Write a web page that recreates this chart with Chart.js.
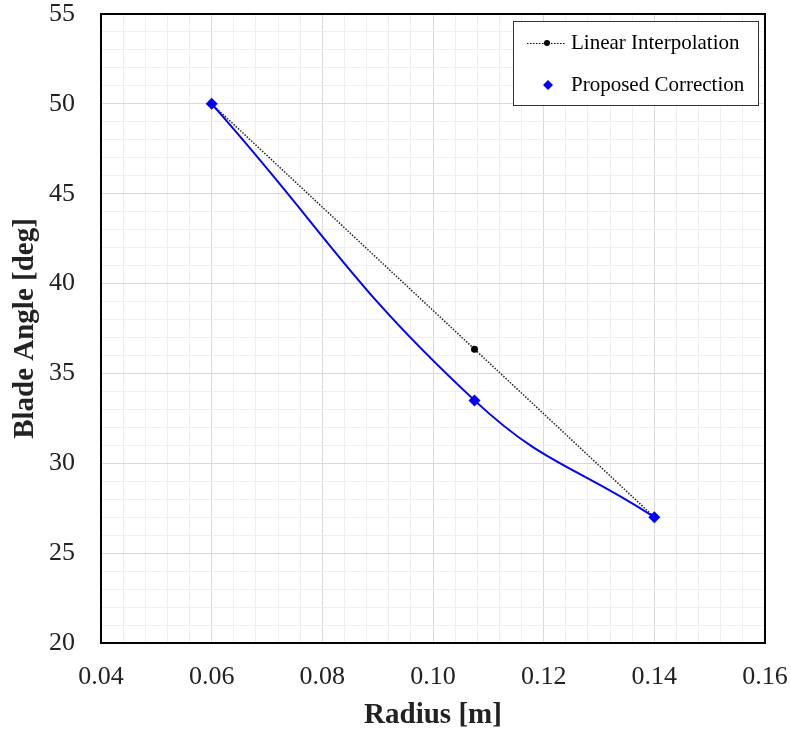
<!DOCTYPE html>
<html>
<head>
<meta charset="utf-8">
<script src="https://cdn.jsdelivr.net/npm/chart.js@4"></script>
<style>
  html, body { margin: 0; padding: 0; background: #fff; }
  #wrap { width: 791px; height: 731px; position: relative; }
</style>
</head>
<body>
<div id="wrap"><canvas id="chart-blade" width="791" height="731"></canvas></div>
<script>
const radiusLinear = [0.06, 0.1075, 0.14];
const angleLinear = [50, 36.35, 27];
const radiusCorrected = [0.06, 0.1075, 0.14];
const angleCorrected = [50, 33.5, 27];
const xTickLabels = ['0.04', '0.06', '0.08', '0.10', '0.12', '0.14', '0.16'];
const yTickLabels = ['20', '25', '30', '35', '40', '45', '50', '55'];
const legendLabels = ['Linear Interpolation', 'Proposed Correction'];

const serif = '"Liberation Serif", "Times New Roman", serif';

function toPoints(xs, ys) {
  return xs.map((x, i) => ({ x: x, y: ys[i] }));
}

// minor grid every 1/5 of major step
function gridColor(c) {
  return c.index % 5 === 0 ? '#d9d9d9' : '#efefef';
}

const framePlugin = {
  id: 'frame',
  afterDraw(chart) {
    const { ctx, chartArea: a } = chart;
    ctx.save();
    ctx.strokeStyle = '#000';
    ctx.lineWidth = 2;
    ctx.strokeRect(a.left, a.top, a.right - a.left, a.bottom - a.top);

    // legend box
    const bx = 513, by = 21, bw = 245, bh = 84;
    ctx.fillStyle = '#fff';
    ctx.fillRect(bx, by, bw, bh);
    ctx.lineWidth = 1;
    ctx.strokeStyle = '#333';
    ctx.strokeRect(bx + 0.5, by + 0.5, bw, bh);

    // linear interpolation sample
    ctx.strokeStyle = '#000';
    ctx.setLineDash([1.5, 1.5]);
    ctx.beginPath();
    ctx.moveTo(527, 43.5);
    ctx.lineTo(566, 43.5);
    ctx.stroke();
    ctx.setLineDash([]);
    ctx.fillStyle = '#000';
    ctx.beginPath();
    ctx.arc(547, 43, 3, 0, Math.PI * 2);
    ctx.fill();

    // proposed correction sample
    ctx.fillStyle = '#0000ff';
    ctx.beginPath();
    ctx.moveTo(548, 80);
    ctx.lineTo(553, 85);
    ctx.lineTo(548, 90);
    ctx.lineTo(543, 85);
    ctx.closePath();
    ctx.fill();

    ctx.fillStyle = '#000';
    ctx.font = '21px ' + serif;
    ctx.textBaseline = 'middle';
    ctx.fillText(legendLabels[0], 571, 43);
    ctx.fillText(legendLabels[1], 571, 85);
    ctx.restore();
  }
};

new Chart(document.getElementById('chart-blade'), {
  type: 'scatter',
  data: {
    datasets: [
      {
        label: legendLabels[1],
        data: toPoints(radiusCorrected, angleCorrected),
        showLine: true,
        borderColor: '#0000ff',
        backgroundColor: '#0000ff',
        borderWidth: 2,
        tension: 0.45,
        pointStyle: 'rectRot',
        pointRadius: 6,
        pointBorderWidth: 0,
      },
      {
        label: legendLabels[0],
        data: toPoints(radiusLinear, angleLinear),
        showLine: true,
        borderColor: '#222',
        backgroundColor: '#000',
        borderWidth: 1.5,
        borderDash: [1.5, 1.5],
        tension: 0,
        pointStyle: 'circle',
        pointRadius: [0, 3.5, 0],
        pointBorderWidth: 0,
      }
    ]
  },
  options: {
    responsive: false,
    animation: false,
    devicePixelRatio: 1,
    layout: { padding: { left: 8, top: 14, right: 26, bottom: 0 } },
    plugins: {
      legend: { display: false },
      tooltip: { enabled: false }
    },
    scales: {
      x: {
        type: 'linear',
        min: 0.04,
        max: 0.16,
        afterFit: s => { s.height = 88; s.paddingLeft = 0; s.paddingRight = 0; },
        border: { display: false },
        grid: { color: gridColor, lineWidth: 1, drawTicks: false },
        ticks: {
          stepSize: 0.004,
          autoSkip: false,
          maxRotation: 0,
          padding: 19,
          color: '#222',
          font: { family: serif, size: 26 },
          callback: (v, i) => i % 5 === 0 ? xTickLabels[i / 5] : ''
        },
        title: {
          display: true,
          text: 'Radius [m]',
          color: '#222',
          font: { family: serif, size: 29, weight: 'bold', lineHeight: 1 },
          padding: { top: 0, bottom: 1 }
        }
      },
      y: {
        type: 'linear',
        min: 20,
        max: 55,
        afterFit: s => { s.width = 93; s.paddingTop = 0; s.paddingBottom = 0; },
        border: { display: false },
        grid: { color: gridColor, lineWidth: 1, drawTicks: false },
        ticks: {
          stepSize: 1,
          autoSkip: false,
          padding: 26,
          color: '#222',
          font: { family: serif, size: 26 },
          callback: (v, i) => i % 5 === 0 ? yTickLabels[i / 5] : ''
        },
        title: {
          display: true,
          text: 'Blade Angle [deg]',
          color: '#222',
          font: { family: serif, size: 29, weight: 'bold' },
          padding: { top: 0, bottom: 0 }
        }
      }
    }
  },
  plugins: [framePlugin]
});
</script>
</body>
</html>
